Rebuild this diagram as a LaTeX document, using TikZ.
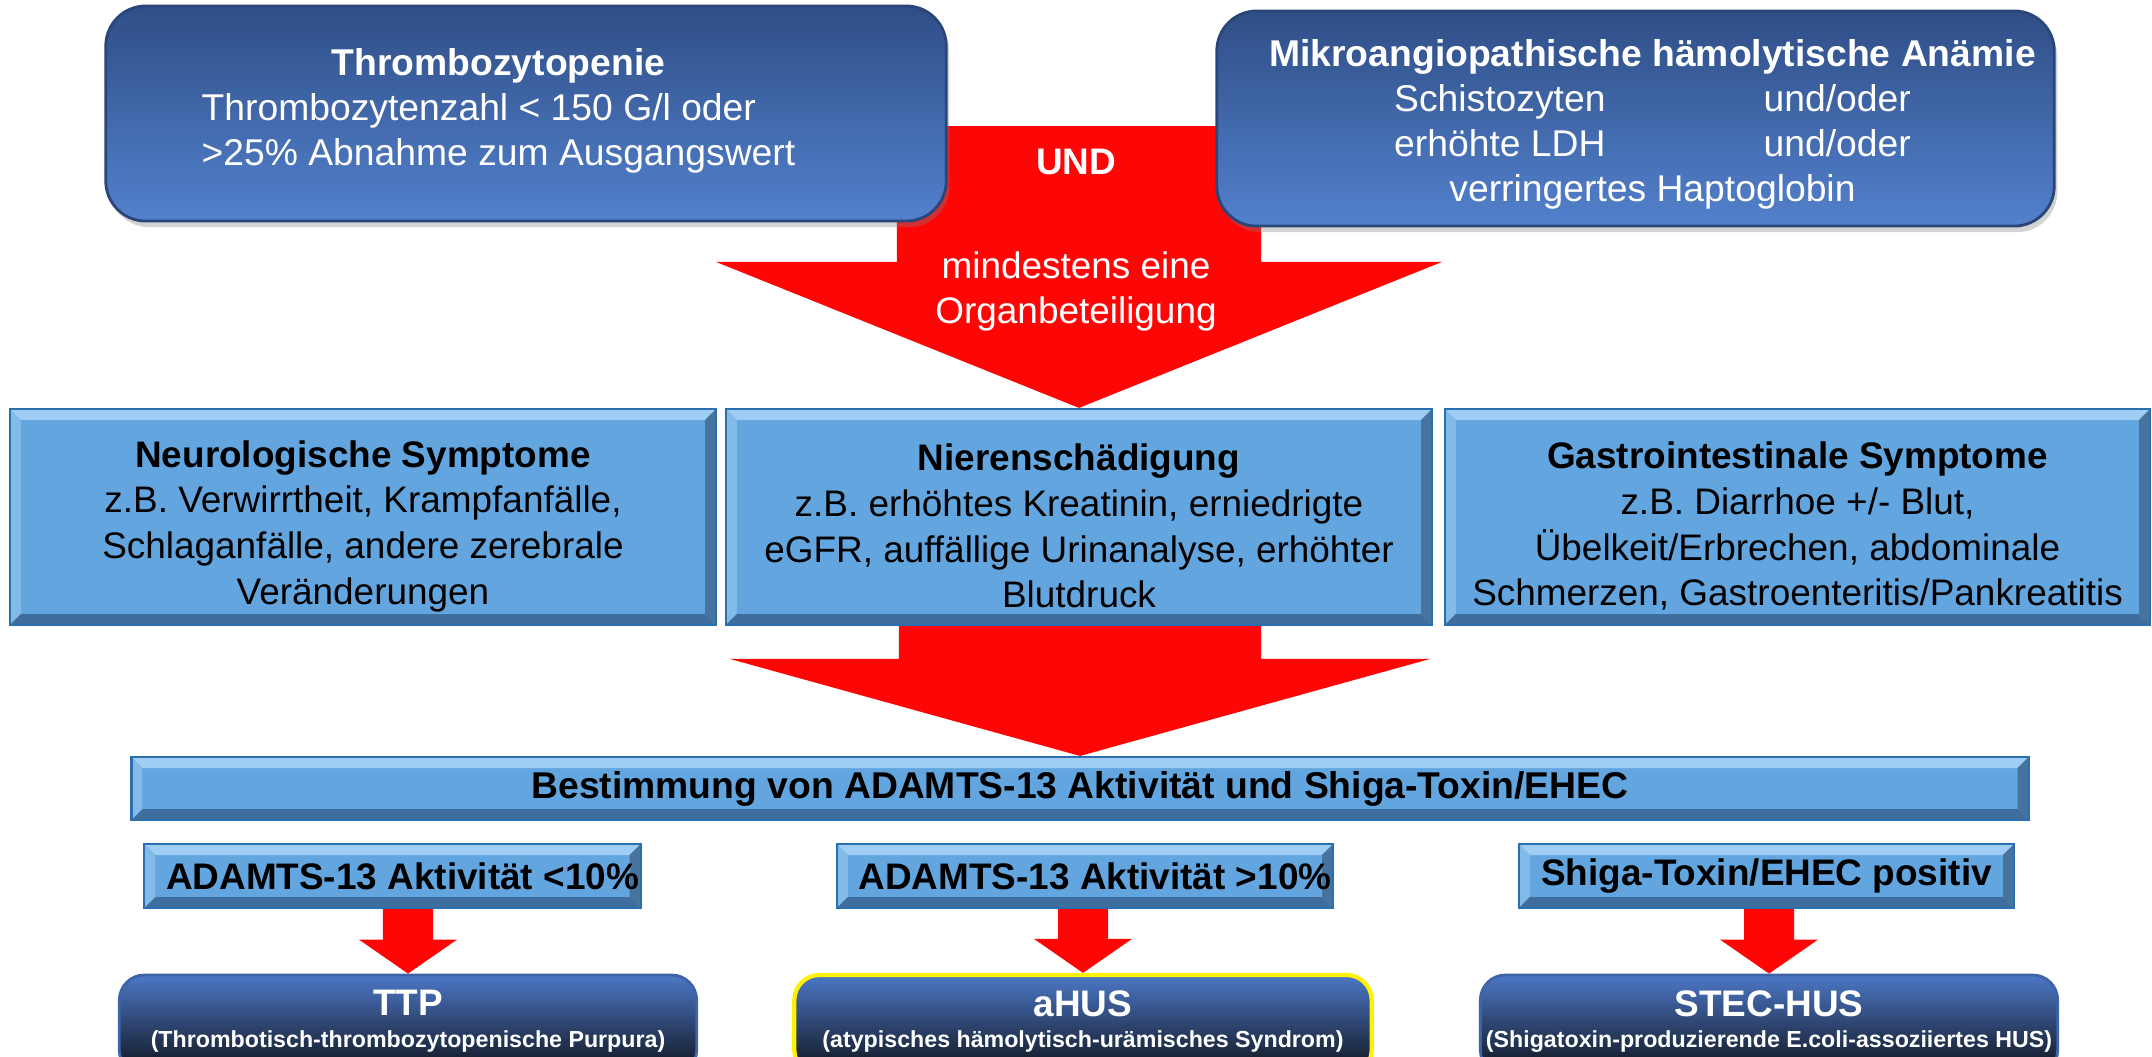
\documentclass[tikz,border=0pt]{standalone}
\usepackage{fontspec}
\setmainfont{Liberation Sans}
\usetikzlibrary{calc,shadows}

\definecolor{pfeilrot}{HTML}{FF0606}
\definecolor{hellblau}{HTML}{63A5DF}
\definecolor{kantehell}{HTML}{9FCDF3}
\definecolor{kantelinks}{HTML}{82BAE8}
\definecolor{kantedunkel}{HTML}{3F6E9E}
\definecolor{kanterechts}{HTML}{46749F}
\definecolor{rahmenblau}{HTML}{2C6FB0}
\definecolor{topoben}{HTML}{2F4E86}
\definecolor{topunten}{HTML}{5381CD}
\definecolor{toprand}{HTML}{2A4679}
\definecolor{endoben}{HTML}{4C77C6}
\definecolor{endunten}{HTML}{0E1118}
\definecolor{endrand}{HTML}{3D64A8}

\newcommand{\kante}{0.11cm}
% roter Blockpfeil: Start, Ziel, halbe Schaftbreite, halbe Kopfbreite, Kopflaenge
\newcommand{\blockpfeil}[5]{%
  \fill[pfeilrot] let \p1=(#1), \p2=(#2) in
    (\x2-#3,\y1) -- (\x2+#3,\y1) -- (\x2+#3,\y2+#5) -- (\x2+#4,\y2+#5) -- (\x2,\y2)
    -- (\x2-#4,\y2+#5) -- (\x2-#3,\y2+#5) -- cycle;}

\tikzstyle{bevel} = [path picture={
  \fill[kantehell] (path picture bounding box.north west) -- (path picture bounding box.north east)
    -- ([shift={(-\kante,-\kante)}]path picture bounding box.north east)
    -- ([shift={(\kante,-\kante)}]path picture bounding box.north west) -- cycle;
  \fill[kantelinks] (path picture bounding box.north west) -- (path picture bounding box.south west)
    -- ([shift={(\kante,\kante)}]path picture bounding box.south west)
    -- ([shift={(\kante,-\kante)}]path picture bounding box.north west) -- cycle;
  \fill[kantedunkel] (path picture bounding box.south west) -- (path picture bounding box.south east)
    -- ([shift={(-\kante,\kante)}]path picture bounding box.south east)
    -- ([shift={(\kante,\kante)}]path picture bounding box.south west) -- cycle;
  \fill[kanterechts] (path picture bounding box.north east) -- (path picture bounding box.south east)
    -- ([shift={(-\kante,\kante)}]path picture bounding box.south east)
    -- ([shift={(-\kante,-\kante)}]path picture bounding box.north east) -- cycle;
}]
\tikzstyle{kopf} = [rectangle, draw=toprand, line width=0.8pt, top color=topoben, bottom color=topunten, rounded corners=0.4cm, text=white, align=center, inner sep=0pt, font=\fontsize{10.6}{12.8}\selectfont, drop shadow={shadow xshift=0.03cm, shadow yshift=-0.06cm, opacity=0.35}]
\tikzstyle{organ} = [rectangle, draw=rahmenblau, line width=0.6pt, fill=hellblau, bevel, align=center, inner sep=0pt, minimum height=2.16cm, minimum width=7.06cm, font=\fontsize{10.5}{13}\selectfont]
\tikzstyle{balken} = [rectangle, draw=rahmenblau, line width=0.6pt, fill=hellblau, bevel, align=center, inner sep=0pt, font=\fontsize{10.6}{12}\selectfont\bfseries]
\tikzstyle{befund} = [rectangle, draw=rahmenblau, line width=0.6pt, fill=hellblau, bevel, align=center, inner sep=0pt, minimum width=4.96cm, minimum height=0.64cm, font=\fontsize{10.5}{12}\selectfont\bfseries]
\tikzstyle{diagnose} = [rectangle, draw=endrand, line width=0.8pt, top color=endoben, bottom color=endunten, rounded corners=0.25cm, text=white, align=center, inner sep=0pt, minimum width=5.77cm, minimum height=1cm, font=\fontsize{6.6}{9}\selectfont\bfseries]
\tikzstyle{pfeiltext} = [text=white, align=center, inner sep=0pt, font=\fontsize{10.5}{12.8}\selectfont]

\begin{document}
\begin{tikzpicture}[x=0.01cm, y=-0.01cm]

    \useasboundingbox (0,0) rectangle (2152,1056);
    \clip (0,0) rectangle (2152,1056);

    %  Organbeteiligung
    \node[organ] (neuro) at (363,517) {\rule{0pt}{0.45cm}\textbf{Neurologische Symptome}\\z.B. Verwirrtheit, Krampfanfälle,\\Schlaganfälle, andere zerebrale\\Veränderungen};
    \node[organ] (niere) at (1079,517) {\rule{0pt}{0.45cm}\textbf{Nierenschädigung}\\z.B. erhöhtes Kreatinin, erniedrigte\\eGFR, auffällige Urinanalyse, erhöhter\\Blutdruck};
    \node[organ, minimum width=7.05cm] (gastro) at (1797.5,517) {\rule{0pt}{0.45cm}\textbf{Gastrointestinale Symptome}\\z.B. Diarrhoe +/- Blut,\\Übelkeit/Erbrechen, abdominale\\Schmerzen, Gastroenteritis/Pankreatitis};

    %-------------------------------------------------------------
    \node[balken, minimum width=18.96cm, minimum height=0.63cm] (best) at (1080,788.5) {Bestimmung von ADAMTS-13 Aktivität und Shiga-Toxin/EHEC};

    \node[befund] (adniedrig) at (392.5,876) {\hspace*{0.2cm}ADAMTS-13 Aktivität <10\%};
    \node[befund] (adhoch) at (1085,876) {\hspace*{0.2cm}ADAMTS-13 Aktivität >10\%};
    \node[befund, minimum width=4.95cm] (shiga) at (1766.5,876) {Shiga-Toxin/EHEC positiv};

    %-------------------------------------------------------------
    \node[diagnose] (ttp) at (408,1025) {{\fontsize{10.5}{9}\selectfont TTP}\\(Thrombotisch-thrombozytopenische Purpura)\rule[-0.12cm]{0pt}{0pt}};
    \node[diagnose, draw=yellow, line width=1.2pt] (ahus) at (1083,1025) {{\fontsize{10.5}{9}\selectfont aHUS}\\(atypisches hämolytisch-urämisches Syndrom)\rule[-0.12cm]{0pt}{0pt}};
    \node[diagnose] (stec) at (1769,1025) {{\fontsize{10.5}{9}\selectfont STEC-HUS}\\(Shigatoxin-produzierende E.coli-assoziiertes HUS)\rule[-0.12cm]{0pt}{0pt}};

    %-------------------------------------------------------------
    \coordinate (start) at (1081,126);
    \blockpfeil{start}{niere.north}{1.82cm}{3.63cm}{1.46cm}
    \blockpfeil{niere.south}{best.north}{1.81cm}{3.5cm}{0.97cm}
    \blockpfeil{adniedrig.south -| ttp.north}{ttp.north}{0.25cm}{0.49cm}{0.34cm}
    \blockpfeil{adhoch.south -| ahus.north}{ahus.north}{0.25cm}{0.49cm}{0.34cm}
    \blockpfeil{shiga.south -| stec.north}{stec.north}{0.25cm}{0.49cm}{0.34cm}

    %-------------------------------------------------------------
    \node[kopf, minimum width=8.4cm, minimum height=2.15cm] (thrombo) at (526,113.5) {\textbf{Thrombozytopenie}\hspace*{0.55cm}\\\begin{tabular}[t]{@{}l@{}}Thrombozytenzahl < 150 G/l oder\\ >25\% Abnahme zum Ausgangswert\end{tabular}\hspace*{0.55cm}};
    \node[kopf, minimum width=8.37cm, minimum height=2.15cm] (anaemie) at (1635.5,118.5) {\rule{0pt}{0.44cm}\hspace*{0.34cm}\textbf{Mikroangiopathische hämolytische Anämie}\\\hspace*{0.34cm}\begin{tabular}[t]{@{}l@{\hspace{1.58cm}}l@{}}Schistozyten & und/oder\\ erhöhte LDH & und/oder\\ \multicolumn{2}{@{}c@{}}{verringertes Haptoglobin}\end{tabular}};

    \node[pfeiltext, font=\fontsize{10.5}{12.8}\selectfont\bfseries] (und) at (1076,162) {UND};
    \node[pfeiltext] (mind) at (1076,291) {mindestens eine\\Organbeteiligung};

\end{tikzpicture}
\end{document}
